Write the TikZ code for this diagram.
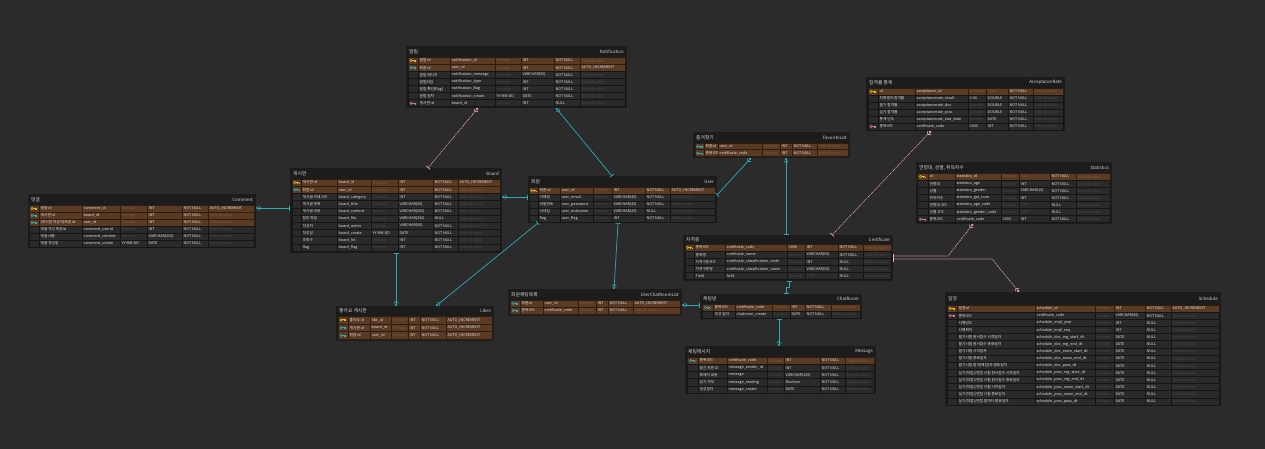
\documentclass[tikz,border=0pt]{standalone}
\usepackage{fontspec}
\setmainfont{Noto Sans CJK KR}
\usetikzlibrary{arrows.meta,calc}
\definecolor{canvas}{HTML}{2B2B2B}
\definecolor{tblbg}{HTML}{1C1C1C}
\definecolor{brownrow}{HTML}{5A3A22}
\definecolor{brownline}{HTML}{2E1E12}
\definecolor{darkrow}{HTML}{2A2A2A}
\definecolor{darkline}{HTML}{151515}
\definecolor{txt}{HTML}{E2E2E2}
\definecolor{hdtxt}{HTML}{D6D6D6}
\definecolor{dimdark}{HTML}{484848}
\definecolor{dimbrown}{HTML}{7E5A3C}
\definecolor{keyy}{HTML}{D9B52B}
\definecolor{keyc}{HTML}{2BAEB8}
\definecolor{keyp}{HTML}{D07A9C}
\definecolor{linec}{HTML}{2BAAB5}
\definecolor{linep}{HTML}{E8A6C4}

\def\grcol{dimdark}
\def\rf{darkrow}
\def\rl{darkline}
\newcommand\gr[1]{\textcolor{\grcol}{#1}}
\newcommand\Dm{\gr{Domain}}
\newcommand\Dv{\gr{Default value}}
\newcommand\Ty{\gr{Type}}

\newcommand\setcols[8]{\def\cxA{#1}\def\cxB{#2}\def\cxC{#3}\def\cxD{#4}\def\cxE{#5}\def\cxF{#6}\def\cxG{#7}\def\cxH{#8}}
\newcommand\setrows[2]{\def\RS{#1}\def\RH{#2}}

\newcommand\keyicon[1]{%
  \def\kc{keyy}%
  \ifx c#1\def\kc{keyc}\fi
  \ifx p#1\def\kc{keyp}\fi
  \ifx x#1\else
    \pgfmathsetmacro\kx{(\cxA+\cxB)/2}%
    \fill[\kc] (\kx-1.9,\ym) circle[radius=1.5];
    \fill[\kc] (\kx-1,\ym-0.5) rectangle (\kx+2.9,\ym+0.5);
    \fill[\kc] (\kx+2,\ym) rectangle (\kx+2.9,\ym+1.5);
    \fill[\kc] (\kx+0.7,\ym) rectangle (\kx+1.5,\ym+1.2);
    \fill[\rf] (\kx-1.9,\ym) circle[radius=0.5];
  \fi}

% #1 index, #2 kind b/n, #3 icon y/c/p/x, #4..#9 cell texts
\newcommand\erow[9]{%
  \pgfmathsetmacro\yt{\RS+#1*\RH}%
  \pgfmathsetmacro\yb{\RS+(#1+1)*\RH}%
  \pgfmathsetmacro\ym{\RS+(#1+0.5)*\RH}%
  \ifx b#2\def\grcol{dimbrown}\def\rf{brownrow}\def\rl{brownline}%
  \else\def\grcol{dimdark}\def\rf{darkrow}\def\rl{darkline}\fi
  \fill[\rf] (\cxA,\yt) rectangle (\cxH,\yb);
  \draw[\rl, line width=0.6pt] (\cxA,\yt) rectangle (\cxH,\yb);
  \foreach \q in {\cxB,\cxC,\cxD,\cxE,\cxF,\cxG} {\draw[\rl, line width=0.6pt] (\q,\yt) -- (\q,\yb);}
  \keyicon{#3}%
  \node[cell] at (\cxB+1.5,\ym) {#4};
  \node[cell] at (\cxC+1.5,\ym) {#5};
  \node[cell] at (\cxD+1.5,\ym) {#6};
  \node[cell] at (\cxE+1.5,\ym) {#7};
  \node[cell] at (\cxF+1.5,\ym) {#8};
  \node[cell] at (\cxG+1.5,\ym) {#9};
}

% #1 name, #2 left, #3 top, #4 right, #5 bottom, #6 header bottom, #7 korean, #8 english
\newcommand\ertbl[8]{%
  \node[tblbox, minimum width={(#4-#2)*1pt}, minimum height={(#5-#3)*1pt}] (#1) at (#2,#3) {};
  \node[hdk] (#1-k) at (#2+3,{(#3+#6)/2}) {#7};
  \node[hde] (#1-e) at (#4-3,{(#3+#6)/2}) {#8};
}

\tikzset{
  x=1pt, y=-1pt,
  tblbox/.style={inner sep=0pt, outer sep=0pt, fill=tblbg, anchor=north west},
  cell/.style={anchor=west, inner sep=0pt, text=txt, font=\fontsize{3.7}{4}\selectfont},
  hdk/.style={anchor=west, inner sep=0pt, text=hdtxt, font=\fontsize{4.8}{5}\selectfont},
  hde/.style={anchor=east, inner sep=0pt, text=hdtxt, font=\fontsize{4.4}{5}\selectfont},
  rel/.style={line width=0.7pt},
  cyn/.style={rel, draw=linec},
  pnk/.style={line width=0.6pt, draw=linep, dash pattern=on 1.2pt off 0.8pt},
  tipone/.tip={Bar[width=5pt,line width=0.7pt]},
  tipmany/.tip={Straight Barb[reversed,length=2.2pt,width=4.5pt,line width=0.6pt] Circle[open,length=2.4pt,width=2.4pt,fill=canvas,line width=0.6pt]}
}

\begin{document}
\begin{tikzpicture}
\useasboundingbox (0,0) rectangle (1265,449);
\fill[canvas] (0,0) rectangle (1265,449);

% ---------- Notification
\ertbl{notif}{406}{46}{627}{108}{57}{알림}{Notification}
\setcols{408}{418}{450}{495}{521}{554}{580}{625}\setrows{57}{7.1}
\erow{0}{b}{y}{알림 id}{notification\_id}{\Dm}{INT}{NOT NULL}{\Dv}
\erow{1}{b}{c}{회원 id}{user\_id}{\Dm}{INT}{NOT NULL}{AUTO\_INCREMENT}
\erow{2}{n}{x}{알림 메시지}{notification\_message}{\Dm}{VARCHAR(50)}{NOT NULL}{\Dv}
\erow{3}{n}{x}{알림타입}{notification\_type}{\Dm}{INT}{NOT NULL}{\Dv}
\erow{4}{n}{x}{알림 확인(flag)}{notification\_flag}{\Dm}{INT}{NOT NULL}{\Dv}
\erow{5}{n}{x}{알림 일자}{notification\_create}{YY-MM-DD}{DATE}{NOT NULL}{\Dv}
\erow{6}{n}{p}{게시판 id}{board\_id}{\Dm}{INT}{NULL}{\Dv}

% ---------- AcceptanceRate
\ertbl{accept}{866}{77}{1065}{131}{88}{합격률 통계}{AcceptanceRate}
\setcols{868}{878}{915}{968}{986}{1008}{1033}{1063}\setrows{88}{7}
\erow{0}{b}{y}{id}{acceptance\_id}{\Dm}{\Ty}{NOT NULL}{\Dv}
\erow{1}{n}{x}{최종결과 합격률}{acceptancerate\_result}{0.00}{DOUBLE}{NOT NULL}{\Dv}
\erow{2}{n}{x}{필기 합격률}{acceptancerate\_doc}{\Dm}{DOUBLE}{NOT NULL}{\Dv}
\erow{3}{n}{x}{실기 합격률}{acceptancerate\_prac}{\Dm}{DOUBLE}{NOT NULL}{\Dv}
\erow{4}{n}{x}{통계 년도}{acceptancerate\_stat\_date}{\Dm}{DATE}{NOT NULL}{\Dv}
\erow{5}{n}{p}{종목코드}{certificate\_code}{0000}{INT}{NOT NULL}{\Dv}

% ---------- FavoriteList
\ertbl{fav}{693}{132}{850}{158}{143}{즐겨찾기}{FavoriteList}
\setcols{695}{704}{718}{762}{780}{792}{817}{848}\setrows{143}{6.8}
\erow{0}{b}{c}{회원id}{user\_id}{\Dm}{INT}{NOT NULL}{\Dv}
\erow{1}{b}{c}{종목코드}{certificate\_code}{\Dm}{INT}{NOT NULL}{\Dv}

% ---------- Board
\ertbl{board}{290}{168}{502}{253}{179}{게시판}{Board}
\setcols{292}{301}{337}{371}{398}{433}{458}{500}\setrows{179}{7.2}
\erow{0}{b}{y}{게시판 id}{board\_id}{\Dm}{INT}{NOT NULL}{AUTO\_INCREMENT}
\erow{1}{b}{c}{회원 id}{user\_id}{\Dm}{INT}{NOT NULL}{\Dv}
\erow{2}{n}{x}{게시글 카테고리}{board\_category}{\Dm}{INT}{NOT NULL}{\Dv}
\erow{3}{n}{x}{게시글 제목}{board\_title}{\Dm}{VARCHAR(50)}{NOT NULL}{\Dv}
\erow{4}{n}{x}{게시글 내용}{board\_content}{\Dm}{VARCHAR(250)}{NOT NULL}{\Dv}
\erow{5}{n}{x}{첨부 파일}{board\_file}{\Dm}{VARCHAR(250)}{NULL}{\Dv}
\erow{6}{n}{x}{작성자}{board\_writer}{\Dm}{VARCHAR(50)}{NOT NULL}{\Dv}
\erow{7}{n}{x}{작성일}{board\_create}{YY-MM-DD}{DATE}{NOT NULL}{\Dv}
\erow{8}{n}{x}{조회수}{board\_hit}{\Dm}{INT}{NOT NULL}{\Dv}
\erow{9}{n}{x}{flag}{board\_flag}{\Dm}{INT}{NOT NULL}{\Dv}

% ---------- User
\ertbl{user}{528}{176}{717}{223}{187}{회원}{User}
\setcols{529}{538}{560}{593}{612}{645}{670}{715}\setrows{187}{7}
\erow{0}{b}{y}{회원 id}{user\_id}{\Dm}{INT}{NOT NULL}{AUTO\_INCREMENT}
\erow{1}{n}{x}{이메일}{user\_email}{\Dm}{VARCHAR(45)}{NOT NULL}{\Dv}
\erow{2}{n}{x}{비밀번호}{user\_password}{\Dm}{VARCHAR(45)}{NOT NULL}{\Dv}
\erow{3}{n}{x}{닉네임}{user\_nickname}{\Dm}{VARCHAR(20)}{NULL}{\Dv}
\erow{4}{n}{x}{flag}{user\_flag}{\Dm}{INT}{NOT NULL}{\Dv}

% ---------- Comment
\ertbl{comment}{28}{194}{256}{248}{205}{댓글}{Comment}
\setcols{29}{39}{82}{120}{147}{182}{208}{254}\setrows{205}{7}
\erow{0}{b}{y}{댓글 id}{comment\_id}{\Dm}{INT}{NOT NULL}{AUTO\_INCREMENT}
\erow{1}{b}{c}{게시판 id}{board\_id}{\Dm}{INT}{NOT NULL}{\Dv}
\erow{2}{b}{c}{(게시판 작성자)회원 id}{user\_id}{\Dm}{INT}{NOT NULL}{\Dv}
\erow{3}{n}{x}{댓글 작성 회원id}{comment\_userid}{\Dm}{INT}{NOT NULL}{\Dv}
\erow{4}{n}{x}{댓글 내용}{comment\_content}{\Dm}{VARCHAR(250)}{NOT NULL}{\Dv}
\erow{5}{n}{x}{댓글 작성일}{comment\_create}{YY-MM-DD}{DATE}{NOT NULL}{\Dv}

% ---------- Statistics
\ertbl{stats}{916}{162}{1112}{224}{173}{연령대, 성별, 취득자수}{Statistics}
\setcols{917}{928}{955}{1001}{1019}{1050}{1076}{1110}\setrows{173}{7.1}
\erow{0}{b}{y}{id}{statistics\_id}{\Dm}{\Ty}{NOT NULL}{\Dv}
\erow{1}{n}{x}{연령대}{statistics\_age}{\Dm}{INT}{NOT NULL}{\Dv}
\erow{2}{n}{x}{성별}{statistics\_gender}{\Dm}{VARCHAR(10)}{NOT NULL}{\Dv}
\erow{3}{n}{x}{취득자수}{statistics\_get\_num}{\Dm}{INT}{NOT NULL}{\Dv}
\erow{4}{n}{x}{연령대 코드}{statistics\_age\_code}{\Dm}{\Ty}{NULL}{\Dv}
\erow{5}{n}{x}{성별 코드}{statistics\_gender\_code}{\Dm}{\Ty}{NULL}{\Dv}
\erow{6}{n}{p}{종목코드}{certificate\_code}{0000}{INT}{NOT NULL}{\Dv}

% ---------- Certificate
\ertbl{cert}{683}{235}{893}{281}{244}{자격증}{Certificate}
\setcols{685}{694}{725}{787}{805}{838}{863}{891}\setrows{244}{7.1}
\erow{0}{b}{y}{종목코드}{certificate\_code}{0000}{INT}{NOT NULL}{\Dv}
\erow{1}{n}{x}{종목명}{certificate\_name}{\Dm}{VARCHAR(50)}{NOT NULL}{\Dv}
\erow{2}{n}{x}{자격구분코드}{certificate\_classification\_code}{\Dm}{INT}{NULL}{\Dv}
\erow{3}{n}{x}{자격구분명}{certificate\_classification\_name}{\Dm}{VARCHAR(50)}{NULL}{\Dv}
\erow{4}{n}{x}{Field}{field}{\Dm}{\Ty}{NULL}{\Dv}

% ---------- Likes
\ertbl{likes}{336}{306}{494}{341}{316}{좋아요 게시판}{Likes}
\setcols{338}{348}{370}{391}{408}{420}{446}{492}\setrows{316}{7.8}
\erow{0}{b}{y}{좋아요 id}{like\_id}{\Dm}{INT}{NOT NULL}{AUTO\_INCREMENT}
\erow{1}{b}{c}{게시판 id}{board\_id}{\Dm}{INT}{NOT NULL}{AUTO\_INCREMENT}
\erow{2}{b}{c}{회원 id}{user\_id}{\Dm}{INT}{NOT NULL}{AUTO\_INCREMENT}

% ---------- UserChatRoomList
\ertbl{ucr}{508}{289}{682}{316}{300}{회원채팅목록}{UserChatRoomList}
\setcols{510}{520}{543}{578}{596}{608}{633}{680}\setrows{300}{7}
\erow{0}{b}{c}{회원id}{user\_id}{\Dm}{INT}{NOT NULL}{AUTO\_INCREMENT}
\erow{1}{b}{c}{종목코드}{certificate\_code}{\Dm}{INT}{NOT NULL}{\Dv}

% ---------- ChatRoom
\ertbl{chat}{700}{294}{862}{319}{304}{채팅방}{ChatRoom}
\setcols{702}{713}{735}{772}{790}{805}{831}{860}\setrows{304}{7}
\erow{0}{b}{c}{종목코드}{certificate\_code}{\Dm}{INT}{NOT NULL}{\Dv}
\erow{1}{n}{x}{생성 일자}{chatroom\_create}{\Dm}{DATE}{NOT NULL}{\Dv}

% ---------- Message
\ertbl{msg}{685}{346}{876}{394}{357}{채팅메시지}{Message}
\setcols{687}{698}{727}{767}{784}{820}{845}{874}\setrows{357}{7.2}
\erow{0}{b}{c}{종목코드}{certificate\_code}{\Dm}{INT}{NOT NULL}{\Dv}
\erow{1}{n}{x}{발신 회원 ID}{message\_sender\_id}{\Dm}{INT}{NOT NULL}{\Dv}
\erow{2}{n}{x}{메세지 내용}{message}{\Dm}{VARCHAR(100)}{NOT NULL}{\Dv}
\erow{3}{n}{x}{읽기 여부}{message\_reading}{\Dm}{Boolean}{NOT NULL}{\Dv}
\erow{4}{n}{x}{생성일자}{message\_create}{\Dm}{DATE}{NOT NULL}{\Dv}

% ---------- Schedule
\ertbl{sched}{945}{292}{1221}{406}{305}{일정}{Schedule}
\setcols{947}{957}{1035}{1095}{1114}{1145}{1171}{1219}\setrows{305}{7.14}
\erow{0}{b}{y}{일정id}{schedule\_id}{\Dm}{INT}{NOT NULL}{AUTO\_INCREMENT}
\erow{1}{n}{p}{종목코드}{certificate\_code}{\Dm}{VARCHAR(45)}{NOT NULL}{\Dv}
\erow{2}{n}{x}{시행년도}{schedule\_impl\_year}{\Dm}{INT}{NULL}{\Dv}
\erow{3}{n}{x}{시행회차}{schedule\_impl\_seq}{\Dm}{INT}{NULL}{\Dv}
\erow{4}{n}{x}{필기시험 원서접수 시작일자}{schedule\_doc\_reg\_start\_dt}{\Dm}{DATE}{NULL}{\Dv}
\erow{5}{n}{x}{필기시험 원서접수 종료일자}{schedule\_doc\_reg\_end\_dt}{\Dm}{DATE}{NULL}{\Dv}
\erow{6}{n}{x}{필기시험 시작일자}{schedule\_doc\_exam\_start\_dt}{\Dm}{DATE}{NULL}{\Dv}
\erow{7}{n}{x}{필기시험 종료일자}{schedule\_doc\_exam\_end\_dt}{\Dm}{DATE}{NULL}{\Dv}
\erow{8}{n}{x}{필기시험 합격(예정)자 발표일자}{schedule\_doc\_pass\_dt}{\Dm}{DATE}{NULL}{\Dv}
\erow{9}{n}{x}{실기(작업)/면접 시험 원서접수 시작일자}{schedule\_prac\_reg\_start\_dt}{\Dm}{DATE}{NULL}{\Dv}
\erow{10}{n}{x}{실기(작업)/면접 시험 원서접수 종료일자}{schedule\_prac\_reg\_end\_dt}{\Dm}{DATE}{NULL}{\Dv}
\erow{11}{n}{x}{실기(작업)/면접 시험 시작일자}{schedule\_prac\_exam\_start\_dt}{\Dm}{DATE}{NULL}{\Dv}
\erow{12}{n}{x}{실기(작업)/면접 시험 종료일자}{schedule\_prac\_exam\_end\_dt}{\Dm}{DATE}{NULL}{\Dv}
\erow{13}{n}{x}{실기(작업)/면접 합격자 발표일자}{schedule\_prac\_pass\_dt}{\Dm}{DATE}{NULL}{\Dv}

% ---------- Relationships
\draw[pnk, {tipmany}-{tipone}] (notif.south -| 478,0) -- (board.north -| 428,0);
\draw[cyn, {tipmany}-{tipone}] (notif.south -| 556,0) -- (user.north -| 612,0);
\draw[cyn, {tipone}-{tipmany}] (user.east |- 0,195) -- (fav.south -| 751,0);
\draw[cyn, {tipmany}-{tipone}] (fav.south -| 786,0) -- (cert.north -| 786,0);
\draw[pnk, {tipmany}-{tipone}] (accept.south -| 931,0) -- (cert.north -| 832,0);
\draw[pnk, {tipmany}-{tipone}] (stats.south -| 973,0) -- (948,256) -- (cert.east |- 0,256);
\draw[pnk, {tipmany}-{tipone}] (sched.north -| 1019,0) -- (992,259) -- (cert.east |- 0,259);
\draw[cyn, {tipmany}-{tipone}] (comment.east |- 0,208) -- (board.west |- 0,208);
\draw[cyn, {tipmany}-{tipone}] (board.east |- 0,197) -- (user.west |- 0,197);
\draw[cyn, {tipone}-{tipmany}] (board.south -| 396,0) -- (likes.north -| 396,0);
\draw[cyn, {tipone}-{tipmany}] (user.south -| 538,0) -- (likes.north -| 436,0);
\draw[cyn, {tipone}-{tipmany}] (user.south -| 618,0) -- (ucr.north -| 614,0);
\draw[cyn, {tipmany}-{tipone}] (ucr.east |- 0,305) -- (chat.west |- 0,305);
\draw[cyn, {tipone}-{tipone}] (cert.south -| 789,0) -- ++(0,6) -| (chat.north -| 786,0);
\draw[cyn, {tipone}-{tipmany}] (chat.south -| 779,0) -- (msg.north -| 779,0);
\end{tikzpicture}
\end{document}
